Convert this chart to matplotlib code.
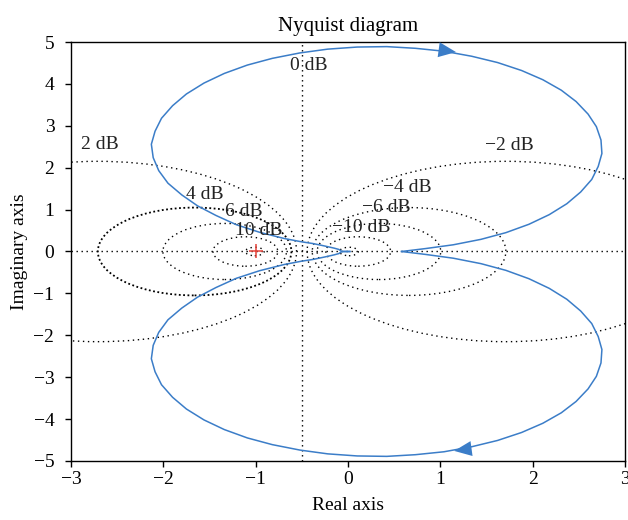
import numpy as np
import matplotlib
matplotlib.use("Agg")
import matplotlib.pyplot as plt
from matplotlib.patches import Circle

plt.rcParams["font.family"] = ["Liberation Serif", "DejaVu Serif"]
plt.rcParams["font.size"] = 14

# Nyquist locus for positive frequencies (real, imaginary), from w = 0 to w -> inf
nyq_re = [0.58, 0.84, 1.14, 1.44, 1.71, 1.96, 2.18, 2.37, 2.52, 2.64, 2.71, 2.75,
          2.74, 2.69, 2.60, 2.47, 2.31, 2.11, 1.88, 1.62, 1.34, 1.04, 0.73, 0.42,
          0.10, -0.22, -0.52, -0.82, -1.09, -1.34, -1.56, -1.75, -1.90, -2.02,
          -2.09, -2.13, -2.11, -2.05, -1.95, -1.80, -1.63, -1.43, -1.21, -0.96,
          -0.69, -0.50, -0.38, -0.25, -0.15, -0.10, -0.08, -0.07, 0.02]
nyq_im = [0.00, -0.07, -0.16, -0.29, -0.45, -0.65, -0.88, -1.14, -1.42, -1.72, -2.03, -2.34,
          -2.66, -2.98, -3.28, -3.58, -3.85, -4.10, -4.32, -4.51, -4.66, -4.78, -4.85, -4.89,
          -4.88, -4.83, -4.74, -4.61, -4.45, -4.25, -4.02, -3.76, -3.48, -3.18,
          -2.87, -2.56, -2.24, -1.93, -1.63, -1.35, -1.09, -0.86, -0.64, -0.46,
          -0.31, -0.23, -0.19, -0.13, -0.08, -0.05, -0.02, -0.005, 0.00]

# Constant-magnitude (M) circles, in dB
m_db = [2, -2, 4, -4, 6, -6, 10, -10, 20, -20]
m_labels = ["2 dB", "\u22122 dB", "4 dB", "\u22124 dB", "6 dB", "\u22126 dB",
            "10 dB", "\u221210 dB", None, None]

blue = "#3b7dc8"
dots = (0, (1, 2.6))

fig = plt.figure(figsize=(6.28, 5.2), dpi=100)
ax = fig.add_axes([0.1131, 0.1135, 0.8821, 0.8057])

# M-circles
label_pos = {2: (-2.69, 2.55), -2: (1.75, 2.54), 4: (-1.55, 1.35), -4: (0.64, 1.53),
             6: (-1.13, 0.95), -6: (0.42, 1.04), 10: (-0.97, 0.51), -10: (0.14, 0.57)}
for db, lab in zip(m_db, m_labels):
    m = 10 ** (db / 20.0)
    c = -m * m / (m * m - 1)
    r = abs(m / (m * m - 1))
    if db == 4:
        ls, lw = (0, (1, 1.4)), 1.3
    else:
        ls, lw = dots, 1.0
    ax.add_patch(Circle((c, 0), r, fill=False, edgecolor="black", linestyle=ls,
                        linewidth=lw, zorder=1))
    if lab is not None:
        x, y = label_pos[db]
        ax.text(x, y, lab, ha="center", va="center", color="#222222", zorder=3)

# 0 dB line and real axis
ax.axvline(-0.5, color="black", linestyle=dots, linewidth=1.0, zorder=1)
ax.axhline(0, color="black", linestyle=dots, linewidth=1.0, zorder=1)
ax.text(-0.42, 4.45, "0 dB", ha="center", va="center", color="#222222", zorder=3)

# Nyquist locus: positive and mirrored negative frequencies
re = np.array(nyq_re)
im = np.array(nyq_im)
ax.plot(re, im, color=blue, linewidth=1.1, zorder=2)
ax.plot(re, -im, color=blue, linewidth=1.1, zorder=2)

# direction arrows
arrow = dict(arrowstyle="-|>,head_length=0.7,head_width=0.3", color=blue,
             mutation_scale=18, lw=0, shrinkA=0, shrinkB=0)
ax.annotate("", xy=(1.17, 4.76), xytext=(1.07, 4.79), arrowprops=arrow, zorder=4)
ax.annotate("", xy=(1.15, -4.76), xytext=(1.25, -4.73), arrowprops=arrow, zorder=4)

# critical point
ax.plot([-1], [0], marker="+", color="#e5433a", markersize=10, mew=1.1, zorder=3)

ax.set_xlim(-3, 3)
ax.set_ylim(-5, 5)
ax.set_xticks([-3, -2, -1, 0, 1, 2, 3])
ax.set_yticks([-5, -4, -3, -2, -1, 0, 1, 2, 3, 4, 5])
ax.tick_params(direction="out", length=4, width=1, top=False, right=False)
ax.tick_params(axis="y", pad=8)
for s in ax.spines.values():
    s.set_linewidth(1.0)

ax.set_title("Nyquist diagram", pad=8, fontsize=15)
ax.set_xlabel("Real axis", labelpad=6)
ax.set_ylabel("Imaginary axis", labelpad=4)

fig.savefig("out.png", dpi=100)
